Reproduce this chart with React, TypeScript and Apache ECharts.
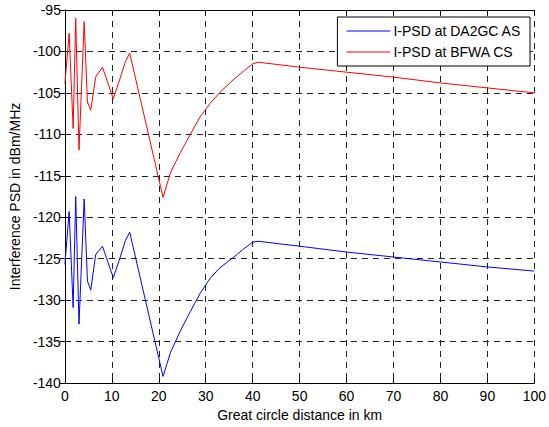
import React, { useEffect, useRef } from "react";
import * as echarts from "echarts";

const xRed = [0, 0.9, 1.75, 2.3, 3.0, 4.1, 4.8, 5.5, 6.55, 8.0, 10.3, 11.5, 12.9, 13.8, 20.9, 22.5, 24.6, 26.7, 28.8, 30.9, 33.0, 35.8, 37.9, 40.0, 41.2, 50, 60, 70, 80, 90, 100];
const yRed = [-103.9, -97.8, -109.3, -96.0, -111.9, -96.4, -106.1, -107.1, -103.1, -101.9, -105.7, -103.7, -101.2, -100.2, -117.6, -114.6, -112.2, -110.0, -107.9, -106.3, -104.95, -103.45, -102.45, -101.5, -101.3, -101.9, -102.5, -103.1, -103.8, -104.4, -105.0];

const xBlue = [0, 0.9, 1.75, 2.3, 3.0, 4.1, 4.8, 5.5, 6.55, 8.0, 10.3, 11.5, 12.9, 13.8, 20.9, 22.5, 24.6, 26.7, 28.8, 30.9, 33.0, 35.8, 37.9, 40.0, 41.2, 50, 60, 70, 80, 90, 100];
const yBlue = [-125.7, -119.3, -130.9, -117.5, -132.9, -117.8, -127.7, -128.8, -124.5, -123.5, -127.3, -125.3, -122.8, -121.8, -139.2, -136.3, -133.7, -131.4, -129.2, -127.4, -126.1, -124.9, -123.9, -123.0, -122.9, -123.5, -124.2, -124.8, -125.4, -126.0, -126.5];

const seriesNames = ["I-PSD at DA2GC AS", "I-PSD at BFWA CS"];
const xName = "Great circle distance in km";
const yName = "Interference PSD in dBm/MHz";

const FONT = "'Liberation Sans', Arial, sans-serif";

export default function App() {
  const ref = useRef<HTMLDivElement>(null);
  useEffect(() => {
    if (!ref.current) return;
    const chart = echarts.init(ref.current, null, { renderer: "svg" });
    const tick = { show: true, inside: true, length: 5, lineStyle: { color: "#000", width: 1 } };
    const axisLine = { show: true, lineStyle: { color: "#000", width: 1 } };
    const split = { show: true, lineStyle: { color: "#222", type: [6, 5], width: 1 } };
    const label = { color: "#000", fontSize: 14, fontFamily: FONT };
    chart.setOption({
      animation: false,
      backgroundColor: "#fff",
      textStyle: { fontFamily: FONT },
      grid: { left: 62, right: 13, top: 10, bottom: 43, containLabel: false },
      legend: {
        orient: "vertical",
        right: 19,
        top: 17,
        padding: [6, 9, 6, 9],
        itemGap: 5,
        itemWidth: 44,
        itemHeight: 1,
        icon: "rect",
        backgroundColor: "#fff",
        borderColor: "#000",
        borderWidth: 1,
        borderRadius: 0,
        textStyle: { color: "#000", fontSize: 14, fontFamily: FONT, padding: [0, 0, 0, -2], lineHeight: 16 },
        data: seriesNames,
      },
      xAxis: [
        {
          type: "value",
          min: 0,
          max: 100,
          interval: 10,
          position: "bottom",
          axisLine,
          axisTick: tick,
          axisLabel: { ...label, margin: 6 },
          splitLine: split,
          name: xName,
          nameLocation: "middle",
          nameGap: 25,
          nameTextStyle: { color: "#000", fontSize: 14, fontFamily: FONT },
        },
        {
          type: "value",
          min: 0,
          max: 100,
          interval: 10,
          position: "top",
          axisLine,
          axisTick: tick,
          axisLabel: { show: false },
          splitLine: { show: false },
        },
      ],
      yAxis: [
        {
          type: "value",
          min: -140,
          max: -95,
          interval: 5,
          position: "left",
          axisLine,
          axisTick: tick,
          axisLabel: { ...label, margin: 4 },
          splitLine: split,
          name: yName,
          nameLocation: "middle",
          nameGap: 41,
          nameTextStyle: { color: "#000", fontSize: 14, fontFamily: FONT },
        },
        {
          type: "value",
          min: -140,
          max: -95,
          interval: 5,
          position: "right",
          axisLine,
          axisTick: tick,
          axisLabel: { show: false },
          splitLine: { show: false },
        },
      ],
      series: [
        {
          name: seriesNames[0],
          type: "line",
          symbol: "none",
          lineStyle: { color: "#0000ff", width: 1 },
          itemStyle: { color: "#0000ff" },
          data: xBlue.map((x, i) => [x, yBlue[i]]),
        },
        {
          name: seriesNames[1],
          type: "line",
          symbol: "none",
          lineStyle: { color: "#ff0000", width: 1 },
          itemStyle: { color: "#ff0000" },
          data: xRed.map((x, i) => [x, yRed[i]]),
        },
      ],
    });
    return () => chart.dispose();
  }, []);
  return <div ref={ref} style={{ width: 549, height: 427, position: "absolute", left: 0, top: 0 }} />;
}
